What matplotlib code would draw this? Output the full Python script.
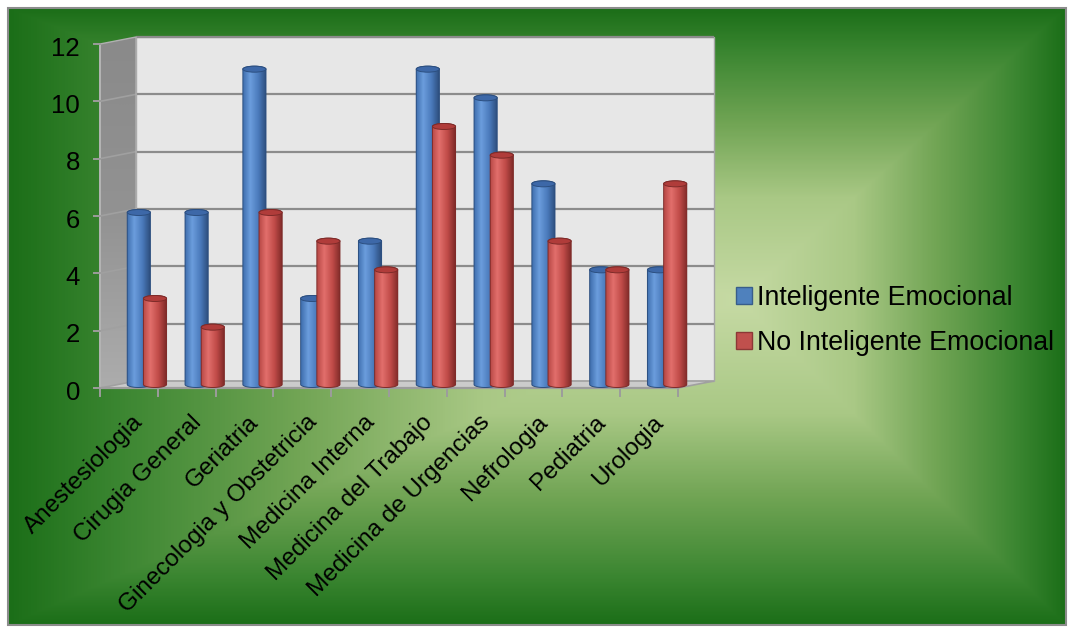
import numpy as np
import matplotlib
matplotlib.use("Agg")
import matplotlib.pyplot as plt
from matplotlib.colors import LinearSegmentedColormap
from matplotlib.patches import Rectangle, Ellipse, Polygon, Patch

plt.rcParams['font.family'] = ['Liberation Sans', 'DejaVu Sans']

# datos
especialidades = ['Anestesiologia', 'Cirugia General', 'Geriatria',
                  'Ginecologia y Obstetricia', 'Medicina Interna',
                  'Medicina del Trabajo', 'Medicina de Urgencias',
                  'Nefrologia', 'Pediatria', 'Urologia']
inteligente = [6, 6, 11, 3, 5, 11, 10, 7, 4, 4]
no_inteligente = [3, 2, 6, 5, 4, 9, 8, 5, 4, 7]
series = ['Inteligente Emocional', 'No Inteligente Emocional']
yticks = [0, 2, 4, 6, 8, 10, 12]

W, H = 1070, 630
fig = plt.figure(figsize=(W / 100, H / 100), dpi=100)
fig.patch.set_facecolor('white')

# ---- fondo verde con degradado rectangular desde el centro ----
bg = fig.add_axes([0, 0, 1, 1], zorder=0)
bg.set_xlim(0, W)
bg.set_ylim(H, 0)
bg.axis('off')
x0, x1, y0, y1 = 8, 1066, 8, 625
cx, cy = 740, 300
xx, yy = np.meshgrid(np.arange(x0, x1) + 0.5, np.arange(y0, y1) + 0.5)
tx = np.where(xx < cx, (cx - xx) / (cx - x0), (xx - cx) / (x1 - cx))
ty = np.where(yy < cy, (cy - yy) / (cy - y0), (yy - cy) / (y1 - cy))
t = np.maximum(tx, ty)
green = LinearSegmentedColormap.from_list(
    'verde', [(0, '#c6daa4'), (0.35, '#a9c885'), (0.6, '#72a555'),
              (0.85, '#3b8631'), (1, '#1b6e18')])
bg.imshow(green(t), extent=(x0, x1, y1, y0), aspect='auto',
          interpolation='bilinear')
bg.add_patch(Rectangle((x0, y0), x1 - x0, y1 - y0, fill=False,
                       ec='#8c8c8c', lw=1.5))
bg.set_xlim(0, W)
bg.set_ylim(H, 0)

# ---- plano de las barras (profundidad media) ----
PX = 57.8          # px por categoria
PY = 344 / 12      # px por unidad
n = len(especialidades)
ymax = yticks[-1]
ax = fig.add_axes([118 / W, (H - 384.5) / H, n * PX / W, ymax * PY / H],
                  zorder=1)
ax.patch.set_alpha(0)
ax.axis('off')
DX, DY = 18 / PX, 3.5 / PY   # medio desplazamiento de profundidad
xl, xr = -0.5, n - 0.5

# pared del fondo y rejilla
ax.add_patch(Rectangle((xl + DX, DY), xr - xl, ymax, fc='#e7e7e7',
                       ec='#a6a6a6', lw=1, zorder=1, clip_on=False))
for v in yticks[1:]:
    ax.plot([xl + DX, xr + DX], [v + DY] * 2, color='#8c8c8c', lw=1.6,
            zorder=1.2, clip_on=False, solid_capstyle='butt')

# pared lateral
side = Polygon([(xl - DX, -DY), (xl - DX, ymax - DY), (xl + DX, ymax + DY),
                (xl + DX, DY)], closed=True, fc='none', ec='#b0b0b0',
               lw=1, zorder=1.4, clip_on=False)
side_img = ax.imshow(np.linspace(0, 1, 64)[:, None], cmap=LinearSegmentedColormap.from_list(
    'gris', ['#8a8a8a', '#929292', '#acacac']), extent=(xl - DX, xl + DX, -DY, ymax + DY),
    origin='upper', aspect='auto', zorder=1.3, interpolation='bilinear')
ax.add_patch(side)
side_img.set_clip_path(side)
side_img.set_clip_box(fig.bbox)
for v in yticks[1:-1]:
    ax.plot([xl - DX, xl + DX], [v - DY, v + DY], color='#a0a0a0', lw=1.2,
            zorder=1.35, clip_on=False)

# piso
ax.add_patch(Polygon([(xl - DX, -DY), (xr - DX, -DY), (xr + DX, DY),
                      (xl + DX, DY)], closed=True, fc='#cbcbcb', ec='#a0a0a0',
                     lw=1.2, zorder=1.5, clip_on=False))

# ejes frontales
ax.plot([xl - DX] * 2, [-DY, ymax - DY], color='#b4b4b4', lw=1.4,
        zorder=1.6, clip_on=False)
ax.plot([xl - DX, xr - DX], [-DY, -DY], color='#9c9c9c', lw=1.6,
        zorder=1.6, clip_on=False)
for v in yticks:
    ax.plot([xl - DX - 6 / PX, xl - DX], [v - DY] * 2, color='#9c9c9c',
            lw=1.4, zorder=1.6, clip_on=False)
    ax.text(xl - DX - 20 / PX, v - DY - 11.5 / PY, str(v), ha='right',
            va='baseline', fontsize=18.5, color='black')
for k in range(n + 1):
    ax.plot([xl - DX + k] * 2, [-DY, -DY - 8 / PY], color='#9c9c9c',
            lw=1.4, zorder=1.6, clip_on=False)
for i, name in enumerate(especialidades):
    ax.text(i - 7 / PX, -DY - 31 / PY, name, rotation=45,
            rotation_mode='anchor', ha='right', va='center', fontsize=17.5,
            color='black')

# ---- barras cilindricas ----
x = np.arange(n)
ancho, sep = 0.40, 0.14
ELL = 6 / PY
grad = np.linspace(0, 1, 64)[None, :]


def sombrear(barras, stops, tapa, borde, z):
    cmap = LinearSegmentedColormap.from_list(
        '', list(zip([0, 0.3, 0.65, 1], stops)))
    th = np.linspace(np.pi, 2 * np.pi, 30)
    for r in barras:
        bx, bw, bh = r.get_x(), r.get_width(), r.get_height()
        xc, rx = bx + bw / 2, bw / 2
        r.set_zorder(z)
        base = np.column_stack([xc + rx * np.cos(th), ELL / 2 * np.sin(th)])
        arriba = np.column_stack([xc + rx * np.cos(th - np.pi),
                                  bh - ELL / 2 * np.sin(th)])
        pts = np.vstack([[bx, bh], base, [bx + bw, bh], arriba])
        silueta = Polygon(pts, closed=True, fc='none', ec=borde, lw=0.7,
                          zorder=z + 0.15, clip_on=False)
        img = ax.imshow(grad, cmap=cmap, aspect='auto', zorder=z + 0.1,
                        extent=(bx, bx + bw, -ELL / 2, bh + ELL / 2),
                        interpolation='bilinear')
        ax.add_patch(silueta)
        img.set_clip_path(silueta)
        img.set_clip_box(fig.bbox)
        ax.add_patch(Ellipse((xc, bh), bw, ELL, fc=tapa, ec=borde, lw=0.7,
                             zorder=z + 0.2, clip_on=False))


b1 = ax.bar(x - sep, inteligente, ancho, color='#4f81bd', lw=0)
b2 = ax.bar(x + sep, no_inteligente, ancho, color='#c0504d', lw=0)
sombrear(b1, ['#3f6fae', '#6b9ddd', '#4a7abb', '#2b4a78'], '#3d68a8',
         '#2c4f80', 3)
sombrear(b2, ['#b84845', '#e26f6c', '#c04b48', '#7b2826'], '#b03c3a',
         '#7e2b29', 4)

ax.set_xlim(xl, xr)
ax.set_ylim(0, ymax)

# ---- leyenda ----
handles = [Patch(fc='#4f81bd', ec='#385d8a', label=series[0]),
           Patch(fc='#c0504d', ec='#8c3836', label=series[1])]
fig.legend(handles=handles, loc='center left',
           bbox_to_anchor=(736 / W, 1 - 320.5 / H), frameon=False,
           fontsize=19.3, handlelength=0.58, handleheight=0.58,
           handletextpad=0.22, labelspacing=0.72, borderaxespad=0,
           borderpad=0)

fig.savefig('out.png', dpi=100)
